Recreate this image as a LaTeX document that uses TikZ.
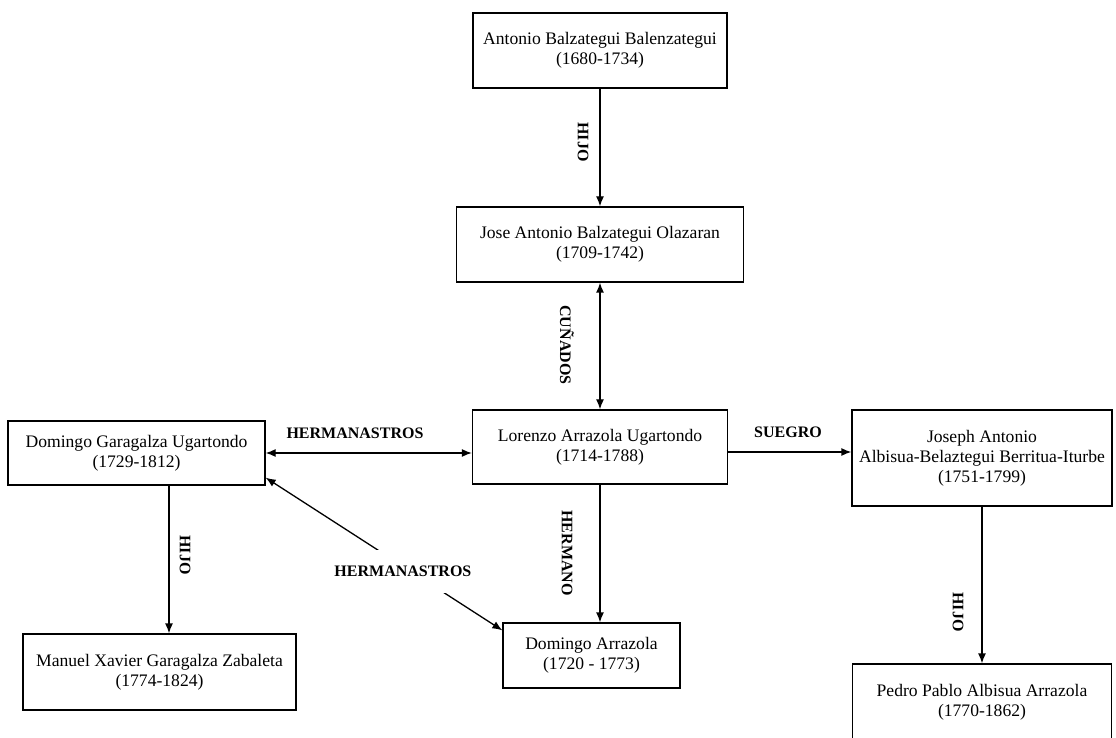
\documentclass[tikz,border=0pt]{standalone}
\usepackage{fontspec}
\setmainfont{Liberation Serif}
\usetikzlibrary{arrows.meta}
\begin{document}
\begin{tikzpicture}[x=.5pt,y=-.5pt,>={Latex[length=5pt,width=4pt]},line width=.65pt,
  box/.style={draw,align=center,inner sep=0pt,font=\fontsize{8.8}{10}\selectfont},
  lbl/.style={font=\fontsize{8}{9}\selectfont\bfseries,inner sep=1pt}]
\useasboundingbox (0,0) rectangle (1116,738);
\clip (0,0) rectangle (1116,738);
% personas
\node[box,minimum width=127pt,minimum height=37.5pt] (antonio) at (600,50.5)
     {Antonio Balzategui Balenzategui\\(1680-1734)};
\node[box,minimum width=143.5pt,minimum height=37.5pt] (jose) at (600,244.5)
     {Jose Antonio Balzategui Olazaran\\(1709-1742)};
\node[box,minimum width=127.5pt,minimum height=37pt] (lorenzo) at (600,447)
     {Lorenzo Arrazola Ugartondo\\(1714-1788)};
\node[box,minimum width=128.5pt,minimum height=32pt] (garagalza) at (136.5,453)
     {Domingo Garagalza Ugartondo\\(1729-1812)};
\node[box,minimum width=130pt,minimum height=48pt] (joseph) at (982,458)
     {Joseph Antonio\\Albisua-Belaztegui Berritua-Iturbe\\(1751-1799)};
\node[box,minimum width=88.5pt,minimum height=32.5pt] (arrazola) at (591.5,655.5)
     {Domingo Arrazola\\(1720 - 1773)};
\node[box,minimum width=136.5pt,minimum height=38pt] (manuel) at (159.5,672)
     {Manuel Xavier Garagalza Zabaleta\\(1774-1824)};
\node[box,minimum width=129.5pt,minimum height=38pt] (pedro) at (982,702)
     {Pedro Pablo Albisua Arrazola\\(1770-1862)};
% relaciones
\draw[->]  (antonio) -- (jose);
\draw[<->] (jose) -- (lorenzo);
\draw[<->] (garagalza.east) -- (garagalza.east -| lorenzo.west);
\draw[->]  ([yshift=-2.5pt]lorenzo.east) -- ([yshift=-2.5pt]lorenzo.east -| joseph.west);
\draw[->]  (lorenzo.south) -- (lorenzo.south |- arrazola.north);
\draw[->]  ([xshift=16.25pt]garagalza.south) -- ([xshift=16.25pt]garagalza.south |- manuel.north);
\draw[->]  (joseph) -- (pedro);
\draw[<->] ([yshift=4pt]garagalza.south east) -- node[lbl,pos=.58,yshift=-2.5pt,fill=white,inner xsep=3pt,inner ysep=8pt] (hermanastrosB) {HERMANASTROS} ([yshift=-4pt]arrazola.north west);
% etiquetas
\node[lbl,rotate=-90] (hijoA) at (583,142) {HIJO};
\node[lbl,rotate=-90] (cunados) at (567,345) {CUÑADOS};
\node[lbl] (hermanastrosA) at (355,433) {HERMANASTROS};
\node[lbl] (suegro) at (788,432) {SUEGRO};
\node[lbl,rotate=-90] (hermano) at (567,553) {HERMANO};
\node[lbl,rotate=-90] (hijoB) at (185,555) {HIJO};
\node[lbl,rotate=-90] (hijoC) at (958,612) {HIJO};
\end{tikzpicture}
\end{document}
